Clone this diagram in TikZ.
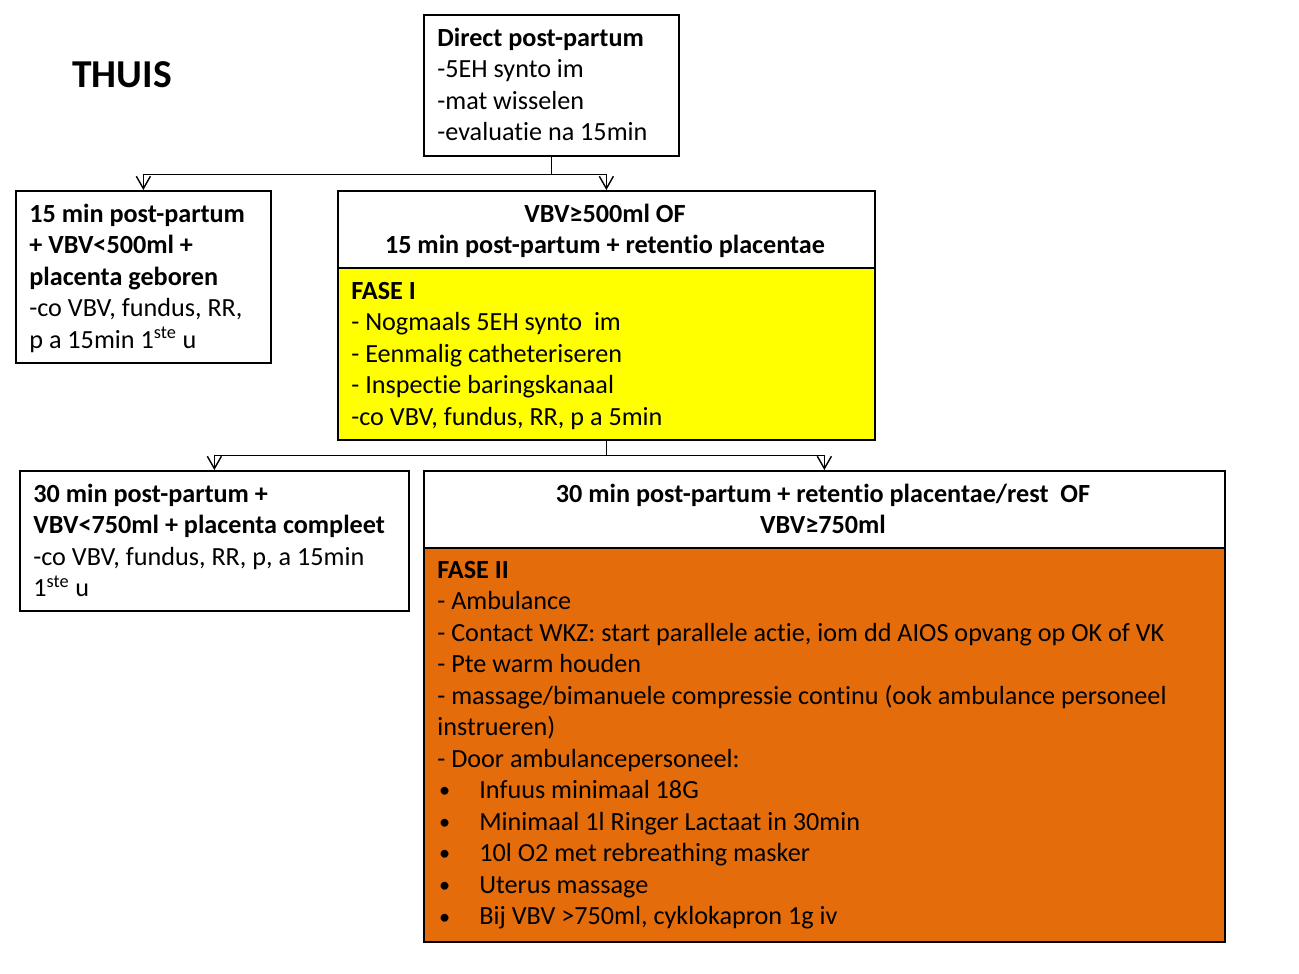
\documentclass[tikz,border=0pt]{standalone}
\usepackage{fontspec}
\setmainfont{Carlito}[Ligatures=NoCommon]
\usetikzlibrary{arrows.meta}
\newcommand\tl[1]{\begin{tabular}[t]{@{}l@{}}#1\end{tabular}}
\newcommand\tc[1]{\begin{tabular}[t]{@{}c@{}}#1\end{tabular}}
\newcommand\bl[1]{\makebox[23.9pt][l]{\hspace{1pt}\raisebox{0.5pt}{\scalebox{0.85}{•}}}#1}
\definecolor{fyellow}{HTML}{FFFF00}
\definecolor{forange}{HTML}{E46C0A}
\tikzset{
  box/.style={draw=black, line width=1pt, rectangle, anchor=north west, inner sep=0pt},
  txt/.style={inner sep=0pt, font=\fontsize{14.9}{17.95}\selectfont},
  arr/.style={draw=black, line width=0.8pt, -{Straight Barb[length=7pt,width=8pt]}},
  conn/.style={draw=black, line width=0.8pt}
}
\begin{document}
\begin{tikzpicture}[x=0.02cm,y=-0.02cm]
\useasboundingbox (0,0) rectangle (1299,974);
% title
\node[inner sep=0pt, anchor=base west, font=\fontsize{22.5}{26}\selectfont\bfseries] (thuis) at (72,87) {THUIS};
% boxes
\node[box, fill=white, minimum width=255*0.02cm, minimum height=141*0.02cm] (top) at (423,14) {};
\node[box, fill=white, minimum width=255*0.02cm, minimum height=172*0.02cm] (b1) at (15,190) {};
\node[box, fill=white, minimum width=537*0.02cm, minimum height=77*0.02cm] (midh) at (337,190) {};
\node[box, fill=fyellow, minimum width=537*0.02cm, minimum height=172*0.02cm] (midf) at (337,267) {};
\node[box, fill=white, minimum width=389*0.02cm, minimum height=140*0.02cm] (b2) at (19,470) {};
\node[box, fill=white, minimum width=801*0.02cm, minimum height=77*0.02cm] (righth) at (423,470) {};
\node[box, fill=forange, minimum width=801*0.02cm, minimum height=394*0.02cm] (rightf) at (423,547) {};
% texts
\node[txt, anchor=base west] (ttop) at (437,46) {\tl{\textbf{Direct post-partum}\\-5EH synto im\\-mat wisselen\\-evaluatie na 15min}};
\node[txt, anchor=base west] (tb1) at (29,222) {\tl{\textbf{15 min post-partum}\\\textbf{+ VBV<500ml +}\\\textbf{placenta geboren}\\-co VBV, fundus, RR,\\p a 15min 1\textsuperscript{ste} u}};
\node[txt, anchor=base] (tmidh) at (605,222) {\tc{\textbf{VBV≥500ml OF}\\\textbf{15 min post-partum + retentio placentae}}};
\node[txt, anchor=base west] (tmidf) at (351,299) {\tl{\textbf{FASE I}\\- Nogmaals 5EH synto\ \ im\\- Eenmalig catheteriseren\\- Inspectie baringskanaal\\-co VBV, fundus, RR, p a 5min}};
\node[txt, anchor=base west] (tb2) at (33,502) {\tl{\textbf{30 min post-partum +}\\\textbf{VBV<750ml + placenta compleet}\\-co VBV, fundus, RR, p, a 15min\\1\textsuperscript{ste} u}};
\node[txt, anchor=base] (trighth) at (823,502) {\tc{\textbf{30 min post-partum + retentio placentae/rest\ \ OF}\\\textbf{VBV≥750ml}}};
\node[txt, anchor=base west] (trightf) at (437,578) {\tl{\textbf{FASE II}\\- Ambulance\\- Contact WKZ: start parallele actie, iom dd AIOS opvang op OK of VK\\- Pte warm houden\\- massage/bimanuele compressie continu (ook ambulance personeel\\instrueren)\\- Door ambulancepersoneel:\\\bl{Infuus minimaal 18G}\\\bl{Minimaal 1l Ringer Lactaat in 30min}\\\bl{10l O2 met rebreathing masker}\\\bl{Uterus massage}\\\bl{Bij VBV >750ml, cyklokapron 1g iv}}};
% connectors
\draw[conn] (top.south) -- ++(0,18) coordinate (j1);
\draw[arr] (j1) -| (b1.north);
\draw[arr] (j1) -| (midh.north);
\draw[conn] (midf.south) -- ++(0,15) coordinate (j2);
\draw[arr] (j2) -| (b2.north);
\draw[arr] (j2) -| (righth.north);
\end{tikzpicture}
\end{document}
